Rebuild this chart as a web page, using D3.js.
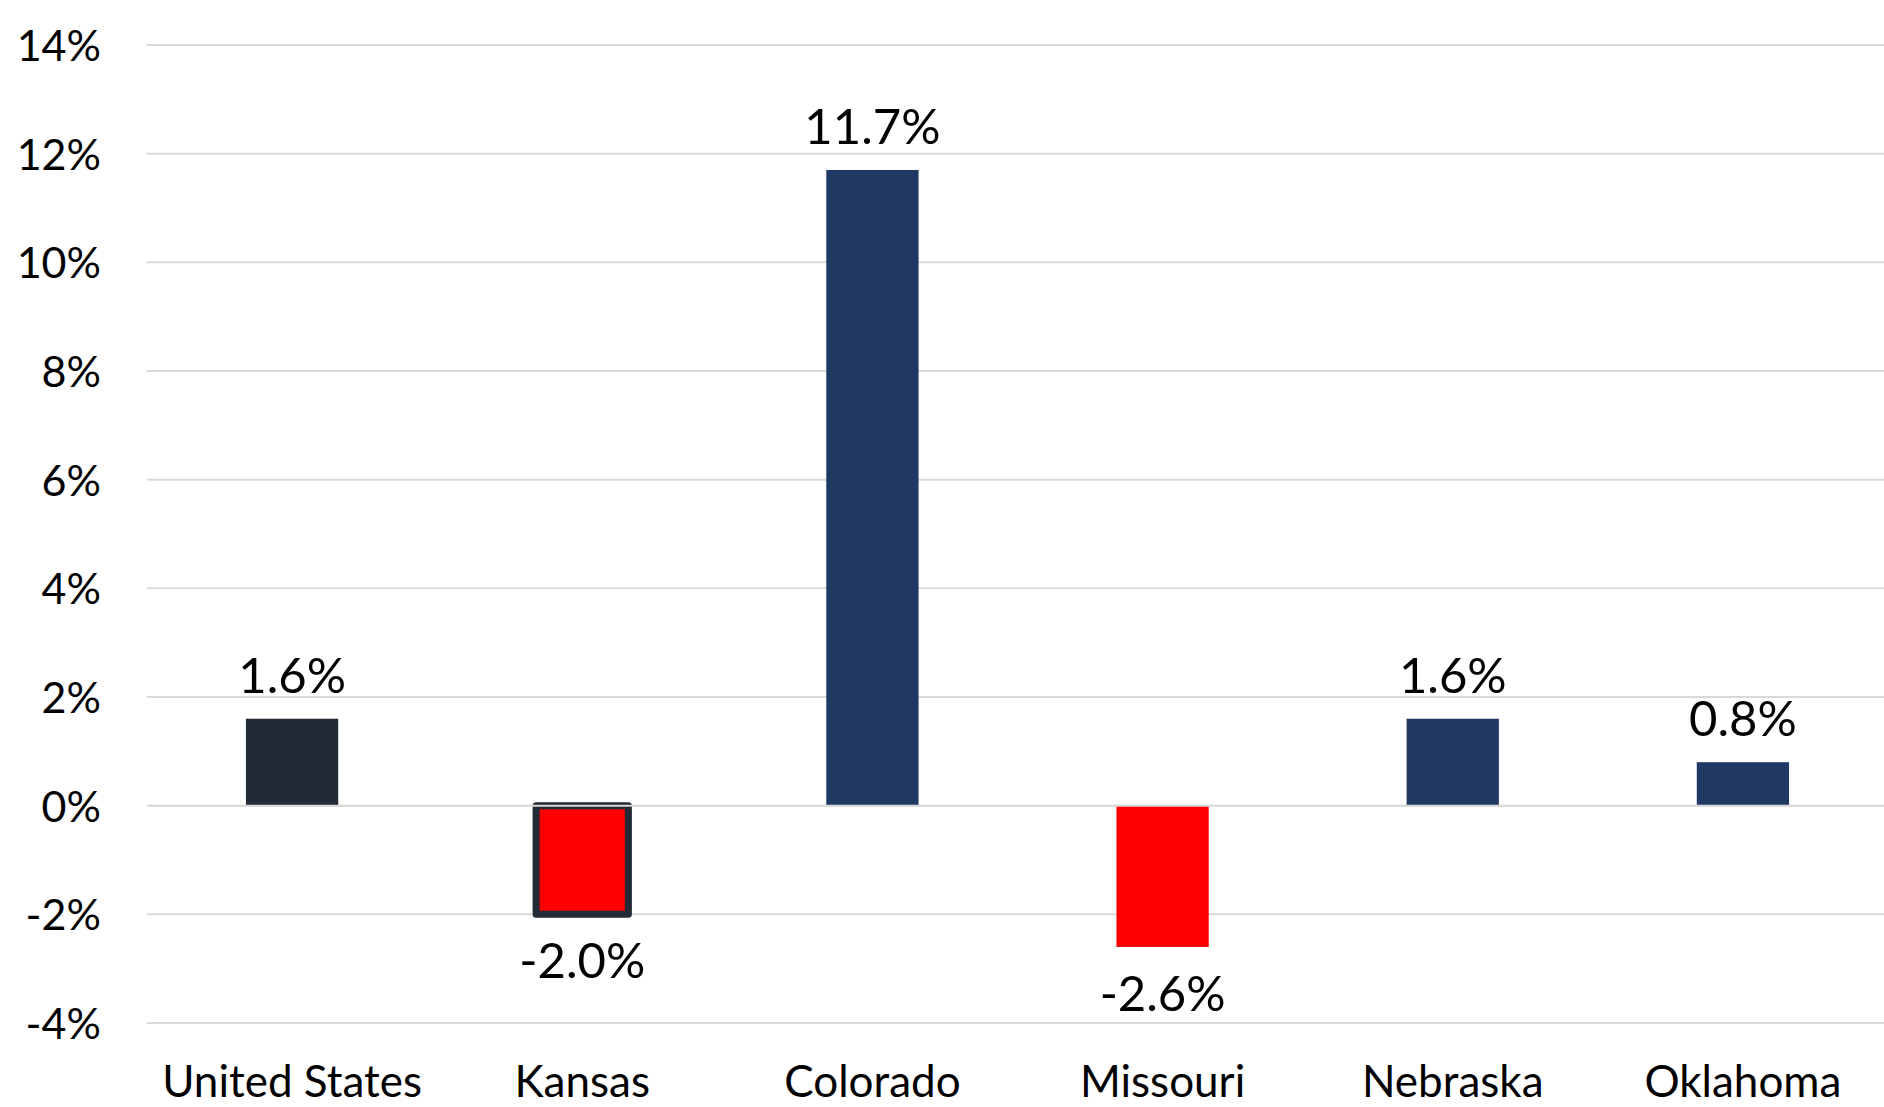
<!DOCTYPE html>
<html>
<head>
<meta charset="utf-8">
<script src="https://cdn.jsdelivr.net/npm/d3@7"></script>
<style>
  html, body { margin: 0; padding: 0; background: #ffffff; }
  svg { display: block; }
  text { font-family: Lato, "Open Sans", sans-serif; fill: #000; }
</style>
</head>
<body>
<svg id="chart" width="1884" height="1107"></svg>
<script>
const categories = ["United States", "Kansas", "Colorado", "Missouri", "Nebraska", "Oklahoma"];
const values = [1.6, -2.0, 11.7, -2.6, 1.6, 0.8];
const valueLabels = ["1.6%", "-2.0%", "11.7%", "-2.6%", "1.6%", "0.8%"];
const barColors = ["#222a35", "#ff0000", "#203864", "#ff0000", "#203864", "#203864"];
const barOutlines = [null, "#222a35", null, null, null, null];
const tickValues = [-4, -2, 0, 2, 4, 6, 8, 10, 12, 14];
const tickLabels = ["-4%", "-2%", "0%", "2%", "4%", "6%", "8%", "10%", "12%", "14%"];

const W = 1884, H = 1107;
const plotLeft = 147, plotRight = 1884, plotTop = 45, plotBottom = 1023;

const svg = d3.select("#chart");

const y = d3.scaleLinear().domain([-4, 14]).range([plotBottom, plotTop]);
const x = d3.scaleBand().domain(categories).range([plotLeft, 1888])
  .paddingInner(0.682).paddingOuter(0.341);

// gridlines
svg.append("g").selectAll("line").data(tickValues).join("line")
  .attr("x1", plotLeft).attr("x2", plotRight)
  .attr("y1", d => y(d)).attr("y2", d => y(d))
  .attr("stroke", "#d9d9d9").attr("stroke-width", 2);

// y tick labels
svg.append("g").selectAll("text").data(tickValues).join("text")
  .attr("x", 101).attr("y", d => y(d) + 16)
  .attr("text-anchor", "end")
  .attr("font-size", 43)
  .text((d, i) => tickLabels[i]);

// bars
const data = categories.map((c, i) => ({ c, v: values[i], color: barColors[i], outline: barOutlines[i], label: valueLabels[i] }));
svg.append("g").selectAll("rect").data(data).join("rect")
  .attr("x", d => x(d.c))
  .attr("width", x.bandwidth())
  .attr("y", d => y(Math.max(0, d.v)))
  .attr("height", d => Math.abs(y(d.v) - y(0)))
  .attr("fill", d => d.color)
  .attr("stroke", d => d.outline || "none")
  .attr("stroke-width", d => d.outline ? 7 : 0)
  .attr("stroke-linejoin", "round");

// zero line on top
svg.append("line")
  .attr("x1", plotLeft).attr("x2", plotRight)
  .attr("y1", y(0)).attr("y2", y(0))
  .attr("stroke", "#d9d9d9").attr("stroke-width", 2);

// data labels
svg.append("g").selectAll("text").data(data).join("text")
  .attr("x", d => x(d.c) + x.bandwidth() / 2)
  .attr("y", d => d.v >= 0 ? y(d.v) - 26 : y(d.v) + 64)
  .attr("text-anchor", "middle")
  .attr("font-size", 49)
  .text(d => d.label);

// category labels
svg.append("g").selectAll("text").data(categories).join("text")
  .attr("x", d => x(d) + x.bandwidth() / 2)
  .attr("y", 1097)
  .attr("text-anchor", "middle")
  .attr("font-size", 44)
  .text(d => d);
</script>
</body>
</html>
